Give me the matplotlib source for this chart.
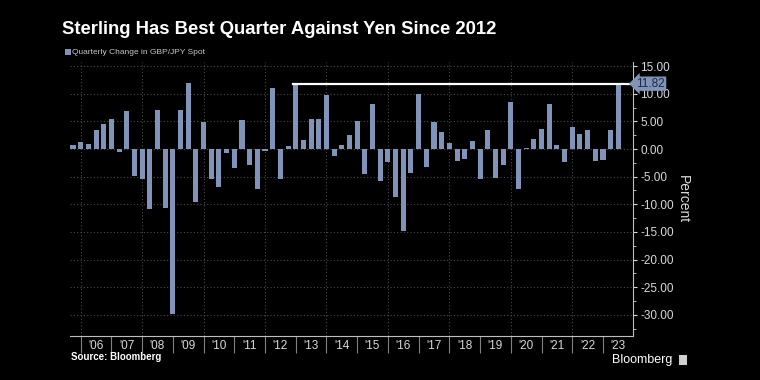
import matplotlib
matplotlib.use("Agg")
import matplotlib.pyplot as plt
import matplotlib.transforms as mtransforms

# Quarterly change in GBP/JPY spot (%), 2005 Q3 .. 2023 Q2
quarters = [f"{y}Q{q}" for y in range(2005, 2024) for q in range(1, 5)][2:-2]
changes = [
    0.8, 1.3, 0.85, 3.4, 4.6, 5.4, -0.55, 6.8,          # 05Q3-07Q2
    -4.9, -5.5, -10.8, 7.05, -10.7, -29.8, 7.0, 11.9,    # 07Q3-09Q2
    -9.5, 4.9, -5.5, -6.8, -0.65, -3.4, 5.2, -2.8,       # 09Q3-11Q2
    -7.2, -0.4, 11.0, -5.5, 0.55, 11.95, 1.6, 5.4,       # 11Q3-13Q2
    5.4, 9.7, -1.2, 0.8, 2.5, 5.0, -4.5, 8.2,            # 13Q3-15Q2
    -5.7, -2.3, -8.7, -14.9, -4.3, 10.0, -3.2, 4.8,      # 15Q3-17Q2
    3.1, 1.0, -2.1, -1.8, 1.45, -5.5, 3.4, -5.2,         # 17Q3-19Q2
    -2.95, 8.55, -7.3, 0.2, 1.9, 3.6, 8.2, 0.7,          # 19Q3-21Q2
    -2.4, 3.9, 2.7, 3.4, -2.2, -1.95, 3.4, 11.82,        # 21Q3-23Q2
]
years = list(range(2006, 2024))
year_labels = [f"'{y % 100:02d}" for y in years]
latest = changes[-1]

# quarter-end positions in decimal years
xpos = [int(q[:4]) + int(q[-1]) * 0.25 for q in quarters]

bar_color = "#7f94b8"
grid_color = "#4a4a4a"
text_color = "#d9d9d9"
plt.rcParams["font.family"] = ["Liberation Sans", "DejaVu Sans"]

fig = plt.figure(figsize=(7.6, 3.8), dpi=100, facecolor="black")
ax = fig.add_axes([0.092, 0.116, 0.741, 0.721], facecolor="black")

ax.bar(xpos, changes, width=0.165, color=bar_color, zorder=3)

ax.set_xlim(2005.65, 2023.98)
ax.set_ylim(-33.8, 15.75)

# grid
for y in range(-30, 20, 5):
    ax.axhline(y, color=grid_color, lw=0.8, ls=(0, (1, 2)), zorder=1)
for y in range(2006, 2024, 2):
    ax.axvline(y, color=grid_color, lw=0.8, ls=(0, (1, 2)), zorder=1)

# latest-value reference line from the Q4 2012 bar
i12 = quarters.index("2012Q4")
ax.plot([xpos[i12] - 0.08, 2023.98], [latest, latest], color="white", lw=1.6, zorder=4, clip_on=False)

# spines
for s in ["top", "left"]:
    ax.spines[s].set_visible(False)
ax.spines["right"].set_color("#bfbfbf")
ax.spines["bottom"].set_color("#bfbfbf")

# y axis on the right
ax.yaxis.tick_right()
ax.yaxis.set_label_position("right")
ax.set_yticks(range(-30, 20, 5))
ax.set_yticklabels([f"{v:.2f}" for v in range(-30, 20, 5)])
ax.set_yticks([v + 2.5 for v in range(-35, 15, 5)], minor=True)
ax.tick_params(axis="y", which="major", colors=text_color, labelsize=8.5, length=3, pad=2)
ax.tick_params(axis="y", which="minor", colors=text_color, length=2)
ax.set_ylabel("Percent", color=text_color, fontsize=10, rotation=-90, labelpad=12)

# x axis: separator ticks at year boundaries, labels mid-year
ax.set_xticks(years)
ax.set_xticklabels([])
ax.set_xticks([y + 0.5 for y in years], minor=True)
ax.set_xticklabels(year_labels, minor=True)
ax.tick_params(axis="x", which="major", colors="#808080", length=12, width=0.8)
ax.tick_params(axis="x", which="minor", colors=text_color, length=0, labelsize=8.5, pad=3)

# value tag
trans = mtransforms.blended_transform_factory(ax.transAxes, ax.transData)
ax.text(1.006, latest, f"{latest:.2f}", transform=trans, ha="left", va="center",
        fontsize=8.5, color="#1c2a44",
        bbox=dict(boxstyle="larrow,pad=0.1", fc=bar_color, ec="none"), zorder=6)

# titles and legend
fig.text(0.082, 0.922, "Sterling Has Best Quarter Against Yen Since 2012", color="white",
         fontsize=13.3, fontweight="bold", ha="left", va="center")
fig.patches.append(plt.Rectangle((0.085, 0.855), 0.008, 0.016, transform=fig.transFigure,
                                 fc=bar_color, ec="none"))
fig.text(0.095, 0.863, "Quarterly Change in GBP/JPY Spot", color="#c8c8c8",
         fontsize=6, ha="left", va="center")

fig.text(0.094, 0.06, "Source: Bloomberg", color="white", fontsize=7,
         fontweight="bold", ha="left", va="center")
fig.text(0.885, 0.053, "Bloomberg", color="white", fontsize=9, ha="right", va="center")
fig.patches.append(plt.Rectangle((0.893, 0.04), 0.011, 0.026, transform=fig.transFigure,
                                 fc="#d0d0d0", ec="none"))

fig.savefig("out.png", dpi=100, facecolor="black")
